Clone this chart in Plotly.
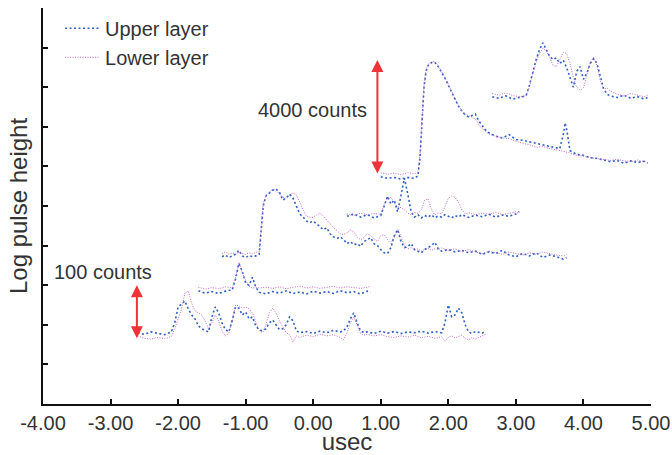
import plotly.graph_objects as go

# ---- x ticks ----
x_tick_vals = [-4, -3, -2, -1, 0, 1, 2, 3, 4, 5]
x_tick_text = ["-4.00", "-3.00", "-2.00", "-1.00", "0.00", "1.00", "2.00", "3.00", "4.00", "5.00"]
y_tick_vals = [0, 1, 2, 3, 4, 5, 6, 7, 8, 9, 10]

# ---- trace 1 (bottom) ----
t1_x = [-2.60, -2.50, -2.40, -2.30, -2.20, -2.10, -2.05, -2.00, -1.95, -1.90, -1.85, -1.80, -1.75, -1.70,
        -1.65, -1.60, -1.55, -1.50, -1.45, -1.40, -1.35, -1.30, -1.25, -1.20, -1.15, -1.10, -1.05, -1.00,
        -0.95, -0.90, -0.85, -0.80, -0.75, -0.70, -0.65, -0.60, -0.55, -0.50, -0.45, -0.40, -0.35, -0.30,
        -0.25, -0.20, -0.10, 0.00, 0.10, 0.20, 0.30, 0.40, 0.45, 0.50, 0.55, 0.60, 0.65, 0.70, 0.75, 0.80,
        0.90, 1.00, 1.10, 1.20, 1.30, 1.40, 1.50, 1.60, 1.70, 1.80, 1.90, 1.95, 2.00, 2.05, 2.10, 2.15,
        2.20, 2.25, 2.30, 2.35, 2.40, 2.50, 2.55]
t1_upper = [1.80, 1.76, 1.82, 1.78, 1.75, 1.82, 2.05, 2.45, 2.52, 2.60, 2.40, 2.25, 2.15, 1.97,
            1.90, 1.85, 1.82, 2.20, 2.45, 2.30, 2.05, 1.88, 1.82, 2.10, 2.45, 2.42, 2.25, 2.32,
            2.15, 2.20, 1.97, 1.87, 1.85, 1.90, 2.05, 2.12, 2.00, 1.88, 1.90, 2.00, 2.20, 2.10,
            1.85, 1.80, 1.83, 1.78, 1.84, 1.80, 1.86, 1.82, 1.85, 1.95, 2.15, 2.30, 2.05, 1.85, 1.80, 1.82,
            1.78, 1.84, 1.79, 1.83, 1.78, 1.82, 1.80, 1.84, 1.79, 1.83, 1.80, 2.05, 2.50, 2.20, 2.25, 2.42,
            2.30, 2.00, 1.82, 1.78, 1.83, 1.79, 1.84]
t1_lower = [1.72, 1.66, 1.64, 1.68, 1.65, 1.70, 1.90, 2.15, 2.40, 2.80, 2.85, 2.55, 2.35, 2.30,
            2.25, 2.10, 1.90, 2.05, 2.25, 2.10, 1.85, 1.72, 1.78, 2.10, 2.50, 2.48, 2.42, 2.45,
            2.40, 2.30, 2.05, 1.85, 1.80, 2.00, 2.30, 2.42, 2.30, 2.10, 1.95, 1.80, 1.75, 1.57,
            1.72, 1.68, 1.74, 1.70, 1.76, 1.72, 1.75, 1.68, 1.62, 1.80, 2.05, 2.20, 2.00, 1.78, 1.74, 1.76,
            1.72, 1.75, 1.70, 1.68, 1.72, 1.69, 1.74, 1.67, 1.71, 1.66, 1.70, 1.58, 1.68, 1.72, 1.67, 1.70,
            1.74, 1.66, 1.62, 1.68, 1.64, 1.72, 1.76]

# ---- trace 2 ----
t2_x = [-1.70, -1.60, -1.50, -1.40, -1.30, -1.20, -1.15, -1.10, -1.05, -1.00, -0.95, -0.90, -0.85, -0.80,
        -0.70, -0.60, -0.50, -0.40, -0.30, -0.20, -0.10, 0.00, 0.10, 0.20, 0.30, 0.40, 0.50, 0.60, 0.70,
        0.80, 0.85]
t2_upper = [2.86, 2.80, 2.84, 2.79, 2.85, 2.88, 3.15, 3.55, 3.35, 3.05, 3.00, 3.20, 2.95, 2.82,
            2.78, 2.84, 2.80, 2.86, 2.79, 2.83, 2.78, 2.85, 2.80, 2.84, 2.79, 2.86, 2.81, 2.84, 2.78,
            2.85, 2.82]
t2_lower = [2.95, 2.90, 2.94, 2.91, 2.96, 2.93, 3.20, 3.58, 3.30, 3.15, 2.98, 2.92, 2.95, 2.93,
            2.95, 2.92, 2.96, 2.91, 2.95, 2.98, 2.93, 2.96, 2.92, 2.95, 2.97, 2.93, 2.96, 2.94, 2.92,
            2.95, 2.97]

# ---- trace 3 ----
t3_x = [-1.35, -1.30, -1.25, -1.20, -1.15, -1.10, -1.05, -1.00, -0.95, -0.90, -0.85, -0.80, -0.77, -0.74,
        -0.70, -0.65, -0.60, -0.55, -0.50, -0.45, -0.40, -0.35, -0.30, -0.25, -0.20, -0.15, -0.10, -0.05,
        0.00, 0.05, 0.10, 0.15, 0.20, 0.25, 0.30, 0.35, 0.40, 0.45, 0.50, 0.55, 0.60, 0.65, 0.70, 0.75,
        0.80, 0.85, 0.90, 0.95, 1.00, 1.05, 1.10, 1.15, 1.20, 1.25, 1.30, 1.35, 1.40, 1.45, 1.50, 1.55,
        1.60, 1.65, 1.70, 1.75, 1.80, 1.85, 1.90, 2.00, 2.10, 2.20, 2.30, 2.40, 2.50, 2.60, 2.70, 2.80,
        2.90, 3.00, 3.10, 3.20, 3.30, 3.40, 3.50, 3.60, 3.70, 3.75]
t3_upper = [3.72, 3.76, 3.70, 3.74, 3.78, 3.88, 3.74, 3.70, 3.75, 3.72, 3.74, 3.78, 4.50, 5.00,
            5.25, 5.33, 5.40, 5.43, 5.35, 5.15, 5.20, 5.30, 5.20, 5.00, 4.80, 4.72, 4.62, 4.58,
            4.62, 4.55, 4.48, 4.40, 4.45, 4.30, 4.22, 4.18, 4.22, 4.15, 4.05, 4.10, 4.02, 4.05, 3.98, 4.10,
            4.15, 4.20, 4.05, 4.00, 3.90, 3.82, 3.80, 3.95, 4.25, 4.40, 4.10, 3.95, 3.98, 4.05, 3.90, 3.85,
            3.82, 3.90, 3.95, 4.00, 4.08, 3.92, 3.86, 3.90, 3.84, 3.88, 3.82, 3.86, 3.78, 3.84, 3.80, 3.88,
            3.76, 3.72, 3.80, 3.74, 3.82, 3.70, 3.76, 3.72, 3.66, 3.70]
t3_lower = [3.80, 3.84, 3.78, 3.82, 3.79, 3.83, 3.80, 3.78, 3.82, 3.79, 3.83, 3.85, 4.50, 5.05,
            5.28, 5.36, 5.42, 5.40, 5.32, 5.22, 5.20, 5.28, 5.33, 5.28, 5.10, 4.90, 4.75, 4.70,
            4.72, 4.78, 4.82, 4.75, 4.65, 4.55, 4.45, 4.38, 4.30, 4.28, 4.32, 4.40, 4.35, 4.22, 4.15, 4.20,
            4.30, 4.25, 4.18, 4.10, 4.25, 4.28, 4.15, 4.05, 4.20, 4.42, 4.22, 4.00, 3.92, 3.95, 3.88, 3.92,
            3.86, 3.90, 3.94, 3.88, 3.92, 3.90, 3.94, 3.88, 3.92, 3.85, 3.90, 3.84, 3.80, 3.86, 3.82, 3.78,
            3.84, 3.80, 3.76, 3.82, 3.78, 3.84, 3.80, 3.76, 3.74, 3.78]

# ---- trace 4 ----
t4_x = [0.50, 0.60, 0.70, 0.80, 0.90, 1.00, 1.05, 1.10, 1.15, 1.20, 1.25, 1.30, 1.35, 1.40, 1.45, 1.50,
        1.55, 1.60, 1.65, 1.70, 1.75, 1.80, 1.85, 1.90, 1.95, 2.00, 2.05, 2.10, 2.15, 2.20, 2.25, 2.30,
        2.40, 2.50, 2.60, 2.70, 2.80, 2.90, 3.00, 3.05]
t4_upper = [4.74, 4.80, 4.72, 4.78, 4.70, 4.76, 5.00, 5.25, 5.05, 5.15, 4.85, 5.30, 5.70, 5.30, 4.85, 4.72,
            4.78, 4.70, 4.76, 4.72, 4.78, 4.70, 4.75, 4.72, 4.78, 4.74, 4.70, 4.76, 4.72, 4.78, 4.74, 4.71,
            4.77, 4.73, 4.79, 4.72, 4.77, 4.74, 4.80, 4.86]
t4_lower = [4.80, 4.76, 4.82, 4.78, 4.81, 4.79, 5.05, 5.20, 5.22, 5.08, 4.98, 4.96, 4.90, 4.82, 4.78, 4.84,
            4.82, 4.90, 5.15, 5.18, 4.92, 4.78, 4.82, 4.80, 4.98, 5.20, 5.25, 5.22, 5.10, 4.90, 4.80, 4.83,
            4.78, 4.82, 4.79, 4.84, 4.78, 4.82, 4.85, 4.80]

# ---- trace 5 ----
t5_x = [1.00, 1.10, 1.20, 1.30, 1.40, 1.50, 1.55, 1.58, 1.61, 1.64, 1.67, 1.70, 1.75, 1.80, 1.85, 1.90,
        1.95, 2.00, 2.05, 2.10, 2.15, 2.20, 2.25, 2.30, 2.35, 2.40, 2.45, 2.50, 2.55, 2.60, 2.70, 2.80,
        2.90, 3.00, 3.10, 3.20, 3.30, 3.40, 3.50, 3.60, 3.65, 3.70, 3.73, 3.76, 3.80, 3.85, 3.90, 4.00,
        4.10, 4.20, 4.30, 4.40, 4.50, 4.60, 4.70, 4.80, 4.90, 4.95]
t5_upper = [5.74, 5.70, 5.72, 5.68, 5.72, 5.70, 5.76, 6.20, 7.10, 8.00, 8.40, 8.55, 8.62, 8.63, 8.52, 8.38,
            8.23, 8.05, 7.88, 7.68, 7.52, 7.40, 7.30, 7.25, 7.28, 7.32, 7.15, 7.02, 6.92, 6.85, 6.76, 6.72,
            6.80, 6.68, 6.66, 6.62, 6.58, 6.55, 6.50, 6.47, 6.45, 6.80, 7.10, 6.85, 6.40, 6.35, 6.30, 6.28,
            6.22, 6.20, 6.16, 6.12, 6.15, 6.08, 6.14, 6.10, 6.13, 6.08]
t5_lower = [5.84, 5.80, 5.83, 5.79, 5.84, 5.81, 5.86, 6.30, 7.20, 8.05, 8.45, 8.58, 8.64, 8.65, 8.55, 8.40,
            8.25, 8.08, 7.90, 7.70, 7.55, 7.40, 7.32, 7.28, 7.26, 7.20, 7.05, 6.95, 6.88, 6.82, 6.76, 6.72,
            6.70, 6.64, 6.58, 6.55, 6.48, 6.50, 6.45, 6.42, 6.40, 6.38, 6.37, 6.36, 6.34, 6.30, 6.28, 6.26,
            6.22, 6.20, 6.18, 6.15, 6.18, 6.14, 6.12, 6.16, 6.12, 6.10]

# ---- trace 6 (top) ----
t6_x = [2.65, 2.75, 2.85, 2.95, 3.05, 3.15, 3.20, 3.25, 3.30, 3.35, 3.40, 3.45, 3.50, 3.55, 3.60, 3.65,
        3.70, 3.75, 3.80, 3.85, 3.90, 3.95, 4.00, 4.05, 4.10, 4.15, 4.20, 4.25, 4.30, 4.35, 4.40, 4.50,
        4.60, 4.70, 4.80, 4.90, 4.95]
t6_upper = [7.76, 7.72, 7.78, 7.70, 7.74, 7.78, 8.05, 8.40, 8.70, 8.95, 9.12, 8.95, 8.78, 8.70, 8.74, 8.60,
            8.68, 8.50, 8.25, 8.00, 8.40, 8.52, 8.20, 8.35, 8.60, 8.72, 8.60, 8.30, 7.95, 7.82, 7.78, 7.74,
            7.80, 7.72, 7.76, 7.70, 7.74]
t6_lower = [7.84, 7.80, 7.86, 7.79, 7.76, 7.78, 8.00, 8.35, 8.62, 8.85, 8.98, 8.92, 8.75, 8.55, 8.52, 8.72,
            8.88, 8.85, 8.60, 8.25, 8.00, 7.92, 7.98, 8.30, 8.62, 8.75, 8.55, 8.15, 7.95, 7.98, 7.90, 7.82,
            7.78, 7.84, 7.80, 7.76, 7.80]

# ---- scale markers (usec, log height) ----
big_arrow_x = 0.95
big_arrow_y = [5.78, 8.69]
big_label = "4000 counts"
big_label_pos = [0.82, 7.42]
small_arrow_x = -2.61
small_arrow_y = [1.62, 3.0]
small_label = "100 counts"
small_label_pos = [-3.87, 3.33]

UPPER_COLOR = "#2f5fc4"
LOWER_COLOR = "#c466c8"
TEXT = "#333333"
FONT = "Liberation Sans, Arial, sans-serif"
FS = 20

fig = go.Figure()
groups = [(t1_x, t1_upper, t1_lower), (t2_x, t2_upper, t2_lower), (t3_x, t3_upper, t3_lower),
          (t4_x, t4_upper, t4_lower), (t5_x, t5_upper, t5_lower), (t6_x, t6_upper, t6_lower)]
for i, (xs, up, lo) in enumerate(groups):
    fig.add_trace(go.Scatter(x=xs, y=up, mode="lines", name="Upper layer", legendgroup="u",
                             showlegend=(i == 0),
                             line=dict(color=UPPER_COLOR, width=1.6, dash="2px,2.5px")))
    fig.add_trace(go.Scatter(x=xs, y=lo, mode="lines", name="Lower layer", legendgroup="l",
                             showlegend=(i == 0),
                             line=dict(color=LOWER_COLOR, width=1, dash="1px,1.5px")))

for ax_x, ys in [(big_arrow_x, big_arrow_y), (small_arrow_x, small_arrow_y)]:
    fig.add_annotation(x=ax_x, y=ys[1], ax=ax_x, ay=ys[0], xref="x", yref="y", axref="x", ayref="y",
                       text="", showarrow=True, arrowhead=2, startarrowhead=2, arrowside="end+start",
                       arrowsize=1.2, arrowwidth=2, arrowcolor="#ee3338")

fig.add_annotation(x=big_label_pos[0], y=big_label_pos[1], xref="x", yref="y",
                   text=big_label, showarrow=False, xanchor="right", yanchor="middle",
                   font=dict(size=FS, color=TEXT, family=FONT))
fig.add_annotation(x=small_label_pos[0], y=small_label_pos[1], xref="x", yref="y",
                   text=small_label, showarrow=False, xanchor="left", yanchor="middle",
                   font=dict(size=FS, color=TEXT, family=FONT))

fig.update_layout(
    width=672, height=455,
    margin=dict(l=43, r=21, t=8, b=51),
    paper_bgcolor="white", plot_bgcolor="white",
    font=dict(family=FONT, size=FS, color=TEXT),
    showlegend=True,
    legend=dict(x=0.028, y=0.998, xanchor="left", yanchor="top", bgcolor="rgba(0,0,0,0)",
                font=dict(size=FS, color=TEXT), tracegroupgap=0, itemwidth=35),
)
fig.update_xaxes(range=[-4, 5], tickvals=x_tick_vals, ticktext=x_tick_text, showgrid=False, zeroline=False,
                 showline=True, linecolor="#111111", linewidth=2, ticks="inside", ticklen=5,
                 tickcolor="#111111", tickwidth=2, title=dict(text="usec", standoff=2),
                 tickfont=dict(size=FS, color=TEXT), automargin=False)
fig.update_yaxes(range=[0, 10], tickvals=y_tick_vals, showticklabels=False, showgrid=False, zeroline=False,
                 showline=True, linecolor="#111111", linewidth=2, ticks="inside", ticklen=5,
                 tickcolor="#111111", tickwidth=2, title=dict(text="Log pulse height", standoff=7),
                 automargin=False)

fig.write_html("out.html", config={"displayModeBar": False},
               post_script="document.body.style.margin='0px';document.body.style.overflow='hidden';")
